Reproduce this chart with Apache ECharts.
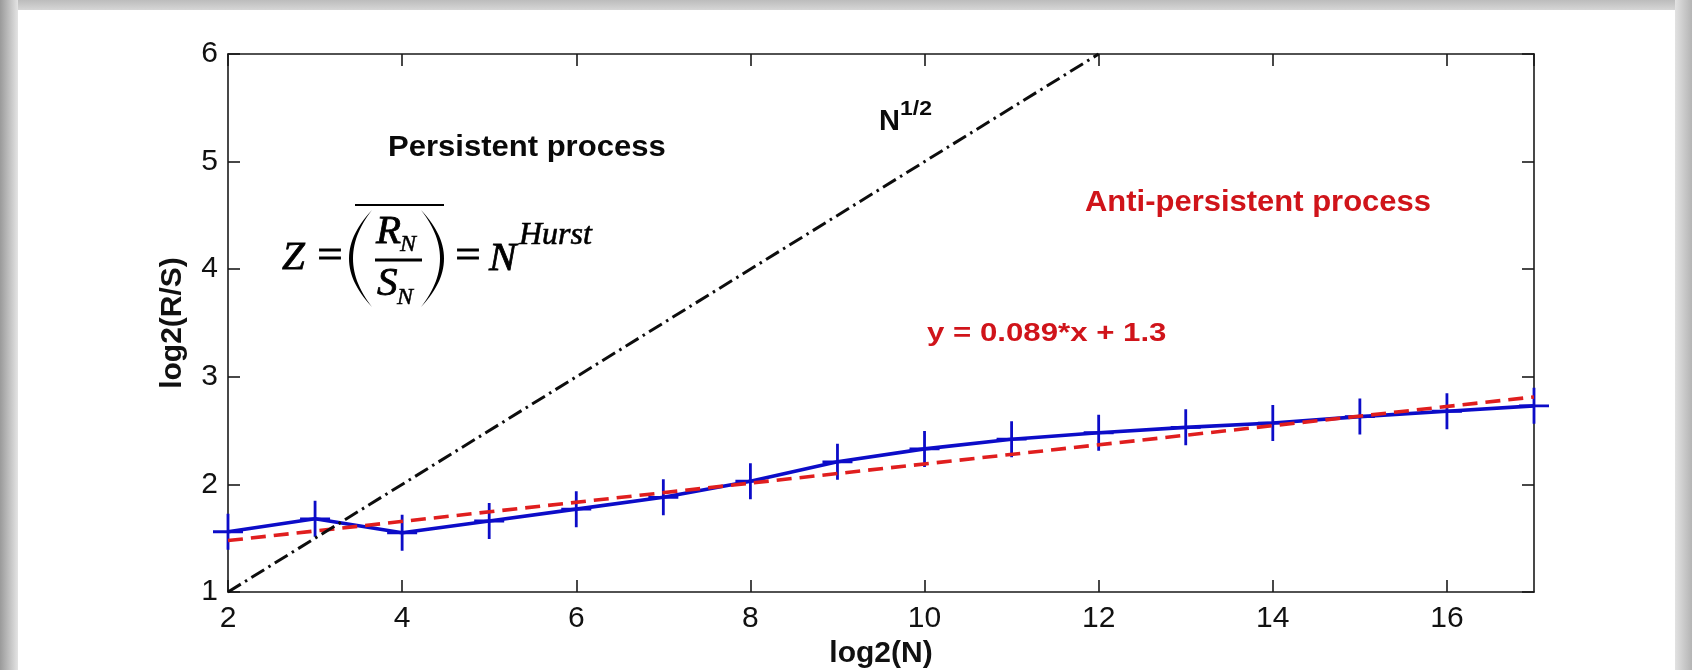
<!DOCTYPE html>
<html>
<head>
<meta charset="utf-8">
<title>R/S analysis</title>
<script src="https://cdn.jsdelivr.net/npm/echarts@6/dist/echarts.min.js"></script>
<style>
  html, body { margin: 0; padding: 0; background: #ffffff; }
  #chart { width: 1692px; height: 670px; }
</style>
</head>
<body>
<div id="chart"></div>
<script>
// Rescaled range statistics: log2(N) against log2(R/S)
const logN  = [2, 3, 4, 5, 6, 7, 8, 9, 10, 11, 12, 13, 14, 15, 16, 17];
const logRS = [1.56, 1.68, 1.55, 1.66, 1.77, 1.88, 2.03, 2.21, 2.33, 2.42, 2.48, 2.53, 2.57, 2.63, 2.68, 2.73];

// Least-squares fit quoted on the chart: y = 0.089*x + 1.3
const fitSlope = 0.089;
const fitIntercept = 1.3;
const fitSpan = [2, 17];

// Reference growth N^(1/2): log2(R/S) = 0.5 * log2(N)
const halfPower = 0.5;
const halfPowerSpan = [2, 12];

const xRange = [2, 17];
const yRange = [1, 6];

const BLUE = '#0c0cc8';
const RED = '#e01e1e';
const TEXT_RED = '#d0141a';
const INK = '#111111';
const SANS = '"Liberation Sans", Arial, sans-serif';
const SERIF = '"Liberation Serif", "Times New Roman", serif';

// '+' marker drawn as a filled cross so the stroke weight stays fixed
function plusSymbol(w, h, t) {
  const cx = w / 2, cy = h / 2, a = t / 2;
  return 'path://M' + (cx - a) + ',0 L' + (cx + a) + ',0 L' + (cx + a) + ',' + (cy - a) +
    ' L' + w + ',' + (cy - a) + ' L' + w + ',' + (cy + a) + ' L' + (cx + a) + ',' + (cy + a) +
    ' L' + (cx + a) + ',' + h + ' L' + (cx - a) + ',' + h + ' L' + (cx - a) + ',' + (cy + a) +
    ' L0,' + (cy + a) + ' L0,' + (cy - a) + ' L' + (cx - a) + ',' + (cy - a) + ' Z';
}

// Tall bracket as a thin crescent between two quadratic curves
function bracket(xEnd, yTop, yBot, xOuterCtl, xInnerCtl) {
  const pts = [];
  const n = 30;
  for (let i = 0; i <= n; i++) {
    const t = i / n;
    const k = 2 * t * (1 - t);
    pts.push([xEnd + k * (xOuterCtl - xEnd), yTop + t * (yBot - yTop)]);
  }
  for (let i = n; i >= 0; i--) {
    const t = i / n;
    const k = 2 * t * (1 - t);
    pts.push([xEnd + k * (xInnerCtl - xEnd), yTop + t * (yBot - yTop)]);
  }
  return pts;
}

function txt(x, y, text, font, fill, opts) {
  opts = opts || {};
  const style = {
    x: 0, y: 0,
    text: text,
    font: font,
    fill: fill,
    align: opts.align || 'left',
    verticalAlign: 'middle',
    textAlign: opts.align || 'left',
    textVerticalAlign: 'middle'
  };
  if (opts.weight) {
    style.stroke = fill;
    style.lineWidth = opts.weight;
  }
  return {
    type: 'text',
    x: x, y: y,
    scaleX: opts.scaleX || 1,
    z: 100,
    silent: true,
    style: style
  };
}

const seriesMain = logN.map((x, i) => [x, logRS[i]]);
const seriesFit = fitSpan.map(x => [x, fitSlope * x + fitIntercept]);
const seriesHalf = halfPowerSpan.map(x => [x, halfPower * x]);

const axisLineStyle = { color: '#1a1a1a', width: 1.6 };
const MATH = { weight: 0.8 };

const chart = echarts.init(document.getElementById('chart'), null, { renderer: 'canvas' });

chart.setOption({
  animation: false,
  backgroundColor: '#ffffff',
  grid: {
    left: 228, right: 158, top: 54, bottom: 78,
    containLabel: false,
    outerBoundsMode: 'none'
  },
  xAxis: [
    {
      type: 'value', min: xRange[0], max: xRange[1], interval: 2,
      position: 'bottom',
      axisLine: { show: true, onZero: false, lineStyle: axisLineStyle },
      axisTick: { show: true, inside: true, length: 12, lineStyle: axisLineStyle },
      splitLine: { show: false },
      axisLabel: {
        show: true, margin: 12, color: INK, fontSize: 30, fontFamily: SANS,
        showMaxLabel: false, showMinLabel: true
      },
      name: 'log2(N)', nameLocation: 'middle', nameGap: 46,
      nameTextStyle: { color: INK, fontSize: 30, fontWeight: 'bold', fontFamily: SANS }
    },
    {
      type: 'value', min: xRange[0], max: xRange[1], interval: 2,
      position: 'top',
      axisLine: { show: true, onZero: false, lineStyle: axisLineStyle },
      axisTick: { show: true, inside: true, length: 12, lineStyle: axisLineStyle },
      splitLine: { show: false },
      axisLabel: { show: false }
    }
  ],
  yAxis: [
    {
      type: 'value', min: yRange[0], max: yRange[1], interval: 1,
      position: 'left',
      axisLine: { show: true, onZero: false, lineStyle: axisLineStyle },
      axisTick: { show: true, inside: true, length: 12, lineStyle: axisLineStyle },
      splitLine: { show: false },
      axisLabel: { show: true, margin: 10, color: INK, fontSize: 30, fontFamily: SANS },
      name: 'log2(R/S)', nameLocation: 'middle', nameGap: 40, nameRotate: 90,
      nameTextStyle: { color: INK, fontSize: 30, fontWeight: 'bold', fontFamily: SANS }
    },
    {
      type: 'value', min: yRange[0], max: yRange[1], interval: 1,
      position: 'right',
      axisLine: { show: true, onZero: false, lineStyle: axisLineStyle },
      axisTick: { show: true, inside: true, length: 12, lineStyle: axisLineStyle },
      splitLine: { show: false },
      axisLabel: { show: false }
    }
  ],
  series: [
    {
      name: 'R/S',
      type: 'line',
      data: seriesMain,
      xAxisIndex: 0, yAxisIndex: 0,
      clip: false,
      silent: true,
      z: 2,
      showAllSymbol: true,
      symbol: plusSymbol(30, 36, 2.8),
      symbolSize: [30, 36],
      itemStyle: { color: BLUE, borderWidth: 0 },
      lineStyle: { color: BLUE, width: 3.6 },
      emphasis: { disabled: true }
    },
    {
      name: 'fit',
      type: 'line',
      data: seriesFit,
      xAxisIndex: 0, yAxisIndex: 0,
      clip: false,
      silent: true,
      z: 3,
      symbol: 'none',
      lineStyle: { color: RED, width: 3.6, type: [15, 8] },
      emphasis: { disabled: true }
    },
    {
      name: 'N^1/2',
      type: 'line',
      data: seriesHalf,
      xAxisIndex: 0, yAxisIndex: 0,
      clip: false,
      silent: true,
      z: 4,
      symbol: 'none',
      lineStyle: { color: '#0d0d0d', width: 3, type: [15, 5, 2.5, 5] },
      emphasis: { disabled: true }
    }
  ],
  graphic: {
    elements: [
      // frame shading round the figure
      {
        type: 'rect', z: 0, silent: true,
        shape: { x: 0, y: 0, width: 1692, height: 10 },
        style: { fill: new echarts.graphic.LinearGradient(0, 0, 0, 1, [
          { offset: 0, color: '#bcbcbc' }, { offset: 1, color: '#d6d6d6' }]) }
      },
      {
        type: 'rect', z: 1, silent: true,
        shape: { x: 0, y: 0, width: 18, height: 670 },
        style: { fill: new echarts.graphic.LinearGradient(0, 0, 1, 0, [
          { offset: 0, color: '#9a9a9a' }, { offset: 1, color: '#e4e4e4' }]) }
      },
      {
        type: 'rect', z: 1, silent: true,
        shape: { x: 1675, y: 0, width: 17, height: 670 },
        style: { fill: new echarts.graphic.LinearGradient(0, 0, 1, 0, [
          { offset: 0, color: '#e2e2e2' }, { offset: 1, color: '#b4b4b4' }]) }
      },

      // region notes
      txt(388, 148, 'Persistent process', 'bold 29px ' + SANS, '#0a0a0a', { scaleX: 1.07 }),
      txt(879, 122, 'N', 'bold 29px ' + SANS, '#0a0a0a'),
      txt(900, 109, '1/2', 'bold 20px ' + SANS, '#0a0a0a', { scaleX: 1.15 }),
      txt(1085, 203, 'Anti-persistent process', 'bold 29.5px ' + SANS, TEXT_RED, { scaleX: 1.05 }),
      txt(927, 334, 'y = 0.089*x + 1.3', 'bold 26px ' + SANS, TEXT_RED, { scaleX: 1.2 }),

      // Z = overline( R_N / S_N ) = N^Hurst
      txt(282, 258, 'Z', 'italic 41px ' + SERIF, '#000', MATH),
      txt(330, 257, '=', '41px ' + SERIF, '#000', { align: 'center', weight: 0.8, scaleX: 1.1 }),
      txt(376, 232, 'R', 'italic 41px ' + SERIF, '#000', MATH),
      txt(400, 245, 'N', 'italic 24px ' + SERIF, '#000', { weight: 0.5 }),
      txt(377, 284, 'S', 'italic 41px ' + SERIF, '#000', MATH),
      txt(397, 298, 'N', 'italic 24px ' + SERIF, '#000', { weight: 0.5 }),
      {
        type: 'line', z: 100, silent: true,
        shape: { x1: 375, y1: 260, x2: 422, y2: 260 },
        style: { stroke: '#000', lineWidth: 2.8 }
      },
      {
        type: 'line', z: 100, silent: true,
        shape: { x1: 355, y1: 205, x2: 444, y2: 205 },
        style: { stroke: '#000', lineWidth: 2.2 }
      },
      {
        type: 'polygon', z: 100, silent: true,
        shape: { points: bracket(372, 210, 307, 326, 334) },
        style: { fill: '#000' }
      },
      {
        type: 'polygon', z: 100, silent: true,
        shape: { points: bracket(421, 210, 307, 467, 459) },
        style: { fill: '#000' }
      },
      txt(468, 257, '=', '41px ' + SERIF, '#000', { align: 'center', weight: 0.8, scaleX: 1.1 }),
      txt(489, 259, 'N', 'italic 41px ' + SERIF, '#000', MATH),
      txt(519, 236, 'Hurst', 'italic 32px ' + SERIF, '#000', { weight: 0.6 })
    ]
  }
});
</script>
</body>
</html>
